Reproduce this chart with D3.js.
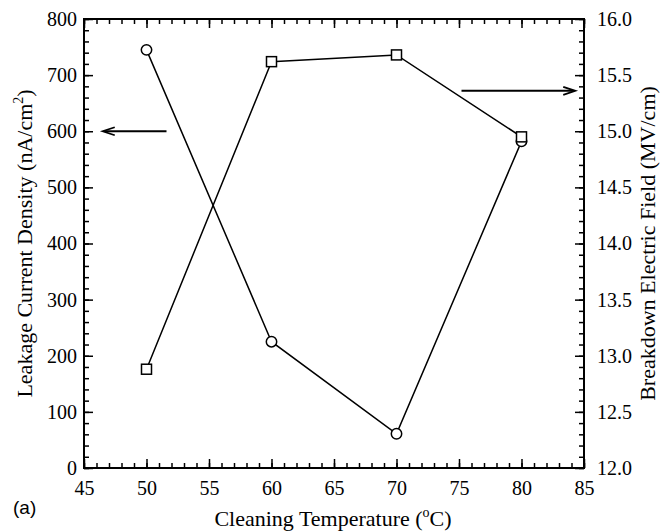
<!DOCTYPE html>
<html>
<head>
<meta charset="utf-8">
<script src="https://cdn.jsdelivr.net/npm/d3@7"></script>
<style>
  body { margin: 0; background: #fff; }
  svg { display: block; }
  text { font-family: "Liberation Serif", "Times New Roman", serif; fill: #000; }
</style>
</head>
<body>
<svg width="660" height="531"></svg>
<script>
// values
var temps = [50, 60, 70, 80];
var leakage = [745, 225, 61, 582];          // nA/cm2, left axis, circles
var breakdown = [12.88, 15.62, 15.68, 14.95]; // MV/cm, right axis, squares

var xTicks = [45, 50, 55, 60, 65, 70, 75, 80, 85];
var yLeftTicks = [0, 100, 200, 300, 400, 500, 600, 700, 800];
var yRightTicks = [12.0, 12.5, 13.0, 13.5, 14.0, 14.5, 15.0, 15.5, 16.0];

// arrows: [x1, x2, y] in data units
var leftArrow = [51.6, 46.5, 600];
var rightArrow = [75.2, 84.3, 15.36];

var svg = d3.select("svg");
var margin = { top: 19, right: 76, bottom: 63, left: 84 };
var width = 660 - margin.left - margin.right,
    height = 531 - margin.top - margin.bottom;

var g = svg.append("g").attr("transform", "translate(" + margin.left + "," + margin.top + ")");

var x = d3.scaleLinear().domain([45, 85]).range([0, width]);
var yL = d3.scaleLinear().domain([0, 800]).range([height, 0]);
var yR = d3.scaleLinear().domain([12, 16]).range([height, 0]);

function styleAxis(sel) {
    sel.attr("font-family", null).attr("font-size", null);
    sel.select(".domain").remove();
    sel.selectAll("line").attr("stroke", "#000").attr("stroke-width", 1.5);
    sel.selectAll("text")
        .style("font-family", "'Liberation Serif', 'Times New Roman', serif")
        .style("font-size", "20px");
}

// minor ticks first
g.append("g").attr("transform", "translate(0," + height + ")")
    .call(d3.axisBottom(x).tickValues(d3.range(45, 86, 1)).tickSize(-5).tickFormat(""))
    .call(styleAxis);
g.append("g")
    .call(d3.axisTop(x).tickValues(d3.range(45, 86, 1)).tickSize(-5).tickFormat(""))
    .call(styleAxis);
g.append("g")
    .call(d3.axisLeft(yL).tickValues(d3.range(0, 801, 20)).tickSize(-5).tickFormat(""))
    .call(styleAxis);
g.append("g").attr("transform", "translate(" + width + ",0)")
    .call(d3.axisRight(yR).tickValues(d3.range(120, 161, 1).map(d => d / 10)).tickSize(-5).tickFormat(""))
    .call(styleAxis);

// major ticks with labels
g.append("g").attr("transform", "translate(0," + height + ")")
    .call(d3.axisBottom(x).tickValues(xTicks).tickSize(-9).tickPadding(13).tickFormat(d3.format("d")))
    .call(styleAxis);
g.append("g")
    .call(d3.axisTop(x).tickValues(xTicks).tickSize(-9).tickFormat(""))
    .call(styleAxis);
g.append("g")
    .call(d3.axisLeft(yL).tickValues(yLeftTicks).tickSize(-9).tickPadding(7).tickFormat(d3.format("d")))
    .call(styleAxis);
g.append("g").attr("transform", "translate(" + width + ",0)")
    .call(d3.axisRight(yR).tickValues(yRightTicks).tickSize(-9).tickPadding(13).tickFormat(d3.format(".1f")))
    .call(styleAxis);

// frame
g.append("rect")
    .attr("width", width).attr("height", height)
    .attr("fill", "none").attr("stroke", "#000").attr("stroke-width", 2);

// leakage series
var lineL = d3.line().x((d, i) => x(temps[i])).y(d => yL(d));
g.append("path").datum(leakage)
    .attr("d", lineL).attr("fill", "none").attr("stroke", "#000").attr("stroke-width", 1.5);

// breakdown series
var lineR = d3.line().x((d, i) => x(temps[i])).y(d => yR(d));
g.append("path").datum(breakdown)
    .attr("d", lineR).attr("fill", "none").attr("stroke", "#000").attr("stroke-width", 1.5);

g.selectAll(".circ").data(leakage).join("circle")
    .attr("class", "circ")
    .attr("cx", (d, i) => x(temps[i])).attr("cy", d => yL(d)).attr("r", 5.2)
    .attr("fill", "#fff").attr("stroke", "#000").attr("stroke-width", 1.5);

g.selectAll(".sq").data(breakdown).join("rect")
    .attr("class", "sq")
    .attr("x", (d, i) => x(temps[i]) - 5).attr("y", d => yR(d) - 5)
    .attr("width", 10).attr("height", 10)
    .attr("fill", "#fff").attr("stroke", "#000").attr("stroke-width", 1.5);

// arrows
function arrow(a, ys) {
    var x1 = x(a[0]), x2 = x(a[1]), yy = ys(a[2]);
    var dir = x2 > x1 ? 1 : -1;
    g.append("line").attr("x1", x1).attr("x2", x2 - dir * 2).attr("y1", yy).attr("y2", yy)
        .attr("stroke", "#000").attr("stroke-width", 2);
    g.append("path")
        .attr("d", "M" + (x2 - dir * 12) + "," + (yy - 4) + "L" + x2 + "," + yy + "L" + (x2 - dir * 12) + "," + (yy + 4))
        .attr("fill", "none").attr("stroke", "#000").attr("stroke-width", 1.8);
}
arrow(leftArrow, yL);
arrow(rightArrow, yR);

// axis titles
var xt = svg.append("text")
    .attr("x", margin.left + width / 2 - 1).attr("y", 526)
    .attr("text-anchor", "middle").style("font-size", "22px")
    .text("Cleaning Temperature (");
xt.append("tspan").attr("dy", -9).style("font-size", "14px").text("o");
xt.append("tspan").attr("dy", 9).text("C)");

var yt = svg.append("text")
    .attr("transform", "translate(32," + (margin.top + height / 2) + ") rotate(-90)")
    .attr("text-anchor", "middle").style("font-size", "22px")
    .text("Leakage Current Density (nA/cm");
yt.append("tspan").attr("dy", -9).style("font-size", "14px").text("2");
yt.append("tspan").attr("dy", 9).text(")");

svg.append("text")
    .attr("transform", "translate(655," + (margin.top + height / 2) + ") rotate(-90)")
    .attr("text-anchor", "middle").style("font-size", "22px")
    .text("Breakdown Electric Field (MV/cm)");

svg.append("text")
    .attr("x", 13).attr("y", 514)
    .style("font-family", "'Liberation Sans', Arial, sans-serif").style("font-size", "19px")
    .text("(a)");
</script>
</body>
</html>
